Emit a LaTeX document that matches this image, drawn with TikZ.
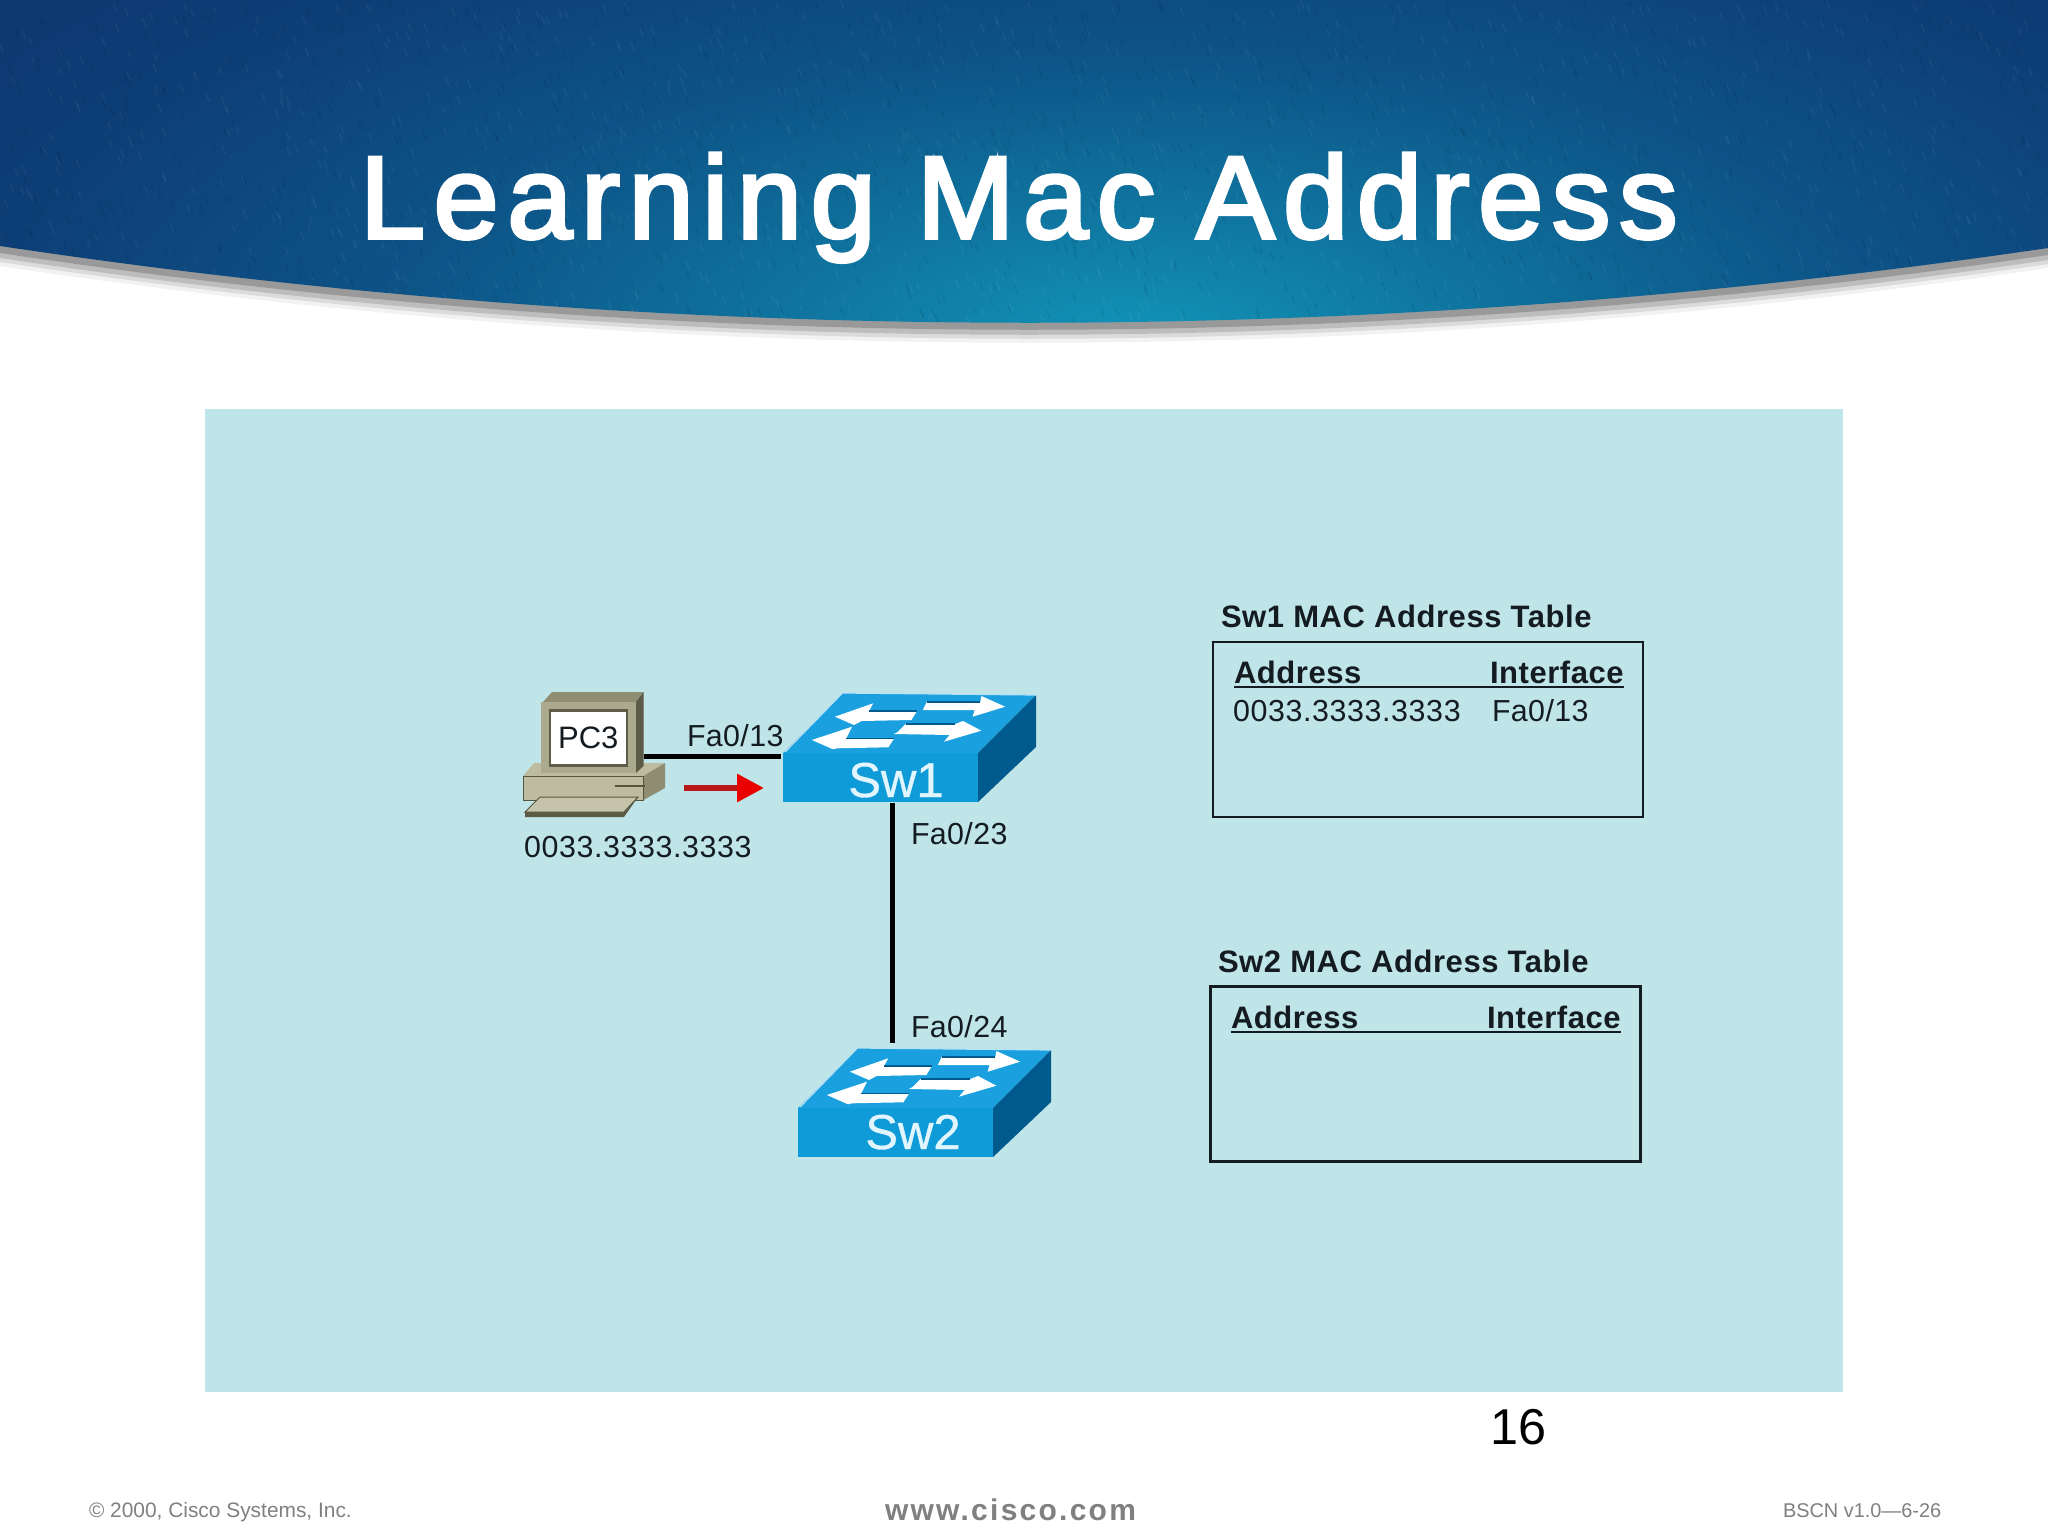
\documentclass[tikz,border=0pt]{standalone}
\usepackage{fontspec}
\setmainfont{Liberation Sans}
\newfontfamily\titlefont[FakeBold=3,LetterSpace=7.4]{Liberation Sans}
\newfontfamily\spaced[LetterSpace=1.2]{Liberation Sans}
\newfontfamily\macfont[LetterSpace=2]{Liberation Sans}
\newfontfamily\boldspaced[LetterSpace=1.8]{Liberation Sans Bold}
\newfontfamily\webfont[LetterSpace=7.5]{Liberation Sans Bold}
\newfontfamily\swfont[FakeBold=0.8]{Liberation Sans}
\usetikzlibrary{arrows.meta,shapes.geometric}
\definecolor{panelbg}{HTML}{BFE5E8}
\definecolor{swfront}{HTML}{0F9AD8}
\definecolor{swtop}{HTML}{1AA0DE}
\definecolor{swside}{HTML}{005A8E}
\definecolor{inktext}{HTML}{141C22}
\definecolor{footgrey}{HTML}{808080}
\definecolor{pcfront}{HTML}{ABAA8E}
\definecolor{pctop}{HTML}{8F8E72}
\definecolor{pcside}{HTML}{5C5B46}
\definecolor{pcframe}{HTML}{5E5D48}
\definecolor{pcbase}{HTML}{BDBCA0}
\definecolor{pcbaseside}{HTML}{8E8D72}
\definecolor{pckey}{HTML}{C5C4AA}
\definecolor{pcedge}{HTML}{55543F}
\pgfdeclareradialshading{bannershade}{\pgfpoint{0bp}{0bp}}{
 rgb(0bp)=(0.07,0.58,0.72);
 rgb(8bp)=(0.06,0.45,0.62);
 rgb(16bp)=(0.05,0.33,0.53);
 rgb(26bp)=(0.05,0.24,0.46);
 rgb(38bp)=(0.05,0.19,0.41);
 rgb(46bp)=(0.04,0.15,0.35);
 rgb(51bp)=(0.02,0.11,0.25);
 rgb(70bp)=(0.012,0.08,0.18)}
\tikzset{
 every node/.style={inner sep=0pt,outer sep=0pt},
 lbl/.style={anchor=base west,text=inktext,font=\fontsize{15.2}{18}\spaced},
 maclbl/.style={anchor=base west,text=inktext,font=\fontsize{15.2}{18}\macfont},
 hdr/.style={anchor=base west,text=inktext,font=\fontsize{15.5}{18}\boldspaced},
 cable/.style={line width=2.5pt,black},
 tablebox/.style={draw=inktext,line width=1.1pt,minimum width=215pt,minimum height=87.5pt},
 rulehdr/.style={draw=inktext,line width=1pt},
 swfacelbl/.style={anchor=base,text=white!88!cyan,font=\fontsize{24.5}{26}\swfont},
 swbody/.style={fill=swfront,minimum width=97.5pt,minimum height=24.5pt},
 foot/.style={text=footgrey,anchor=base west},
}
\def\bannerpath{(0,0) -- (0,246) .. controls (680,348) and (1368,348) .. (2048,248) -- (2048,0) -- cycle}
\newcommand{\switchtop}{%
 \fill[swtop] (785,751) -- (842.5,693) -- (1036,695) -- (978,753) -- (783,753) -- cycle;
 \fill[swside] (978,753) -- (1036,695) -- (1036,747) -- (978,802) -- cycle;
 \draw[white!70!swtop,line width=.6pt] (785,752) -- (842.5,693) -- (1036,695);
 \fill[white] (926.7,701.7) -- (980.3,701.7) -- (981.4,696) -- (1005.2,706.7) -- (972.6,716.7) -- (974.6,710) -- (922.9,710) -- cycle;
 \fill[white] (834.9,716.7) -- (873.1,703.3) -- (869.3,710.7) -- (917.1,710.7) -- (911.4,720) -- (861.6,721) -- (854,725) -- cycle;
 \fill[white] (898,731.7) -- (905.7,724) -- (955.4,724) -- (963,721) -- (981.4,730.7) -- (943.9,741.7) -- (949.7,735) -- (894,734) -- cycle;
 \fill[white] (811.9,740) -- (852,726.7) -- (846.3,738.3) -- (894.2,738.3) -- (888.4,747.3) -- (836.8,748.3) -- (833,749.3) -- cycle;
 \draw[swside,line width=.8pt] (926.7,701.7) -- (980.3,701.7) (869.3,710.7) -- (917.1,710.7) (905.7,724) -- (955.4,724) (846.3,738.3) -- (894.2,738.3);
}
\begin{document}
\begin{tikzpicture}[x=0.5pt,y=-0.5pt]
\useasboundingbox (0,0) rectangle (2048,1536);
\fill[white] (0,0) rectangle (2048,1536);
% banner
\begin{scope}[yshift=-10pt]\fill[black!5] \bannerpath;\end{scope}
\begin{scope}[yshift=-8pt]\fill[black!14] \bannerpath;\end{scope}
\begin{scope}[yshift=-6pt]\fill[black!26] \bannerpath;\end{scope}
\begin{scope}[yshift=-3.5pt]\fill[black!40] \bannerpath;\end{scope}
\begin{scope}
 \clip \bannerpath;
 \shade[shading=bannershade] (0,-100) rectangle (2260,780);
 \pgfmathsetseed{7}
 \foreach \i in {1,...,2000}{
  \pgfmathsetmacro{\xa}{rnd*2048}
  \pgfmathsetmacro{\ya}{rnd*340}
  \pgfmathsetmacro{\tone}{int(mod(\i,2))}
  \ifnum\tone=0
   \draw[white,opacity=.05,line width=.7pt] (\xa,\ya) -- ++(3,8);
  \else
   \draw[black,opacity=.08,line width=.7pt] (\xa,\ya) -- ++(3,8);
  \fi
 }
\end{scope}
\node[anchor=base west,text=white,font=\fontsize{58.5}{66}\titlefont] (title) at (360,238) {Learning Mac Address};
% panel
\fill[panelbg] (205,409) rectangle (1843,1392);
% PC
\fill[pcbase] (534,763) -- (665,763) -- (643.5,776) -- (523,776) -- cycle;
\fill[pcbaseside] (643.5,776) -- (665,763) -- (665,788) -- (643.5,800) -- cycle;
\fill[fill=pcbase,draw=pcedge,line width=.5pt] (523,776) rectangle (643.5,800);
\draw[pcedge,line width=1.2pt] (615,786) -- (645,786);
\fill[fill=pckey,draw=pcedge,line width=.5pt] (540,797) -- (638,797) -- (624,812) -- (525,812) -- cycle;
\fill[pcside] (525,812) -- (624,812) -- (638,797) -- (624,817) -- (525,817) -- cycle;
\fill[pctop] (543,702) -- (552,692) -- (643.5,692) -- (636,702) -- cycle;
\fill[pcside] (636,702) -- (643.5,692) -- (643.5,766) -- (636,773) -- cycle;
\fill[pcfront] (541,702) rectangle (636,773);
\fill[pcframe] (549,709) rectangle (628,767);
\node[fill=white,minimum width=37.25pt,minimum height=26pt,text=inktext,font=\fontsize{15.5}{18}\selectfont] (pc) at (588.25,738) {PC3};
\coordinate (pcport) at (643.5,756);
\coordinate (redstart) at (684,788);
\coordinate (redend) at (764,788);
\draw[line width=3pt,color=red!70!black!90,-{Triangle[length=13.5pt,width=13.5pt,color=red!92!black]}] (redstart) -- (redend);
\node[maclbl] (mac) at (524,857) {0033.3333.3333};
% Sw1
\node[swbody] (sw1) at (880.5,777.5) {};
\switchtop
\node[swfacelbl] (sw1name) at (896,797) {Sw1};
% Sw2
\node[swbody] (sw2) at (895.5,1132.5) {};
\begin{scope}[shift={(15,355)}]\switchtop\end{scope}
\node[swfacelbl] (sw2name) at (913,1149) {Sw2};
% cables
\coordinate (sw1down) at (892,803);
\coordinate (sw2up) at (892,1043);
\coordinate (sw1port) at (781,756);
\draw[cable] (pcport) -- (sw1port);
\draw[cable] (sw1down) -- (sw2up);
\node[lbl] (p13) at (687,746) {Fa0/13};
\node[lbl] (p23) at (911,844) {Fa0/23};
\node[lbl] (p24) at (911,1037) {Fa0/24};
% table 1
\node[hdr] (t1title) at (1221,627) {Sw1 MAC Address Table};
\node[tablebox] (tbl1) at (1428,729.5) {};
\node[hdr] (a1) at (1234,683) {Address};
\node[hdr] (i1) at (1490,683) {Interface};
\draw[rulehdr] ([yshift=-2pt]a1.base west) -- ([yshift=-2pt]i1.base east);
\node[maclbl] (m1) at (1233,721) {0033.3333.3333};
\node[lbl] (f1) at (1492,721) {Fa0/13};
% table 2
\node[hdr] (t2title) at (1218,972) {Sw2 MAC Address Table};
\node[tablebox] (tbl2) at (1425.5,1074) {};
\node[hdr] (a2) at (1231,1028) {Address};
\node[hdr] (i2) at (1487,1028) {Interface};
\draw[rulehdr] ([yshift=-2pt]a2.base west) -- ([yshift=-2pt]i2.base east);
% footer
\node[anchor=base west,text=black,font=\fontsize{25.2}{30}\selectfont] (pg) at (1490,1444) {16};
\node[foot,font=\fontsize{10.45}{12}\selectfont] (copy) at (89,1517) {© 2000, Cisco Systems, Inc.};
\node[foot,font=\fontsize{15}{18}\webfont] (web) at (885,1520) {www.cisco.com};
\node[foot,font=\fontsize{9.95}{12}\selectfont] (code) at (1783,1517) {BSCN v1.0—6-26};
\end{tikzpicture}
\end{document}
